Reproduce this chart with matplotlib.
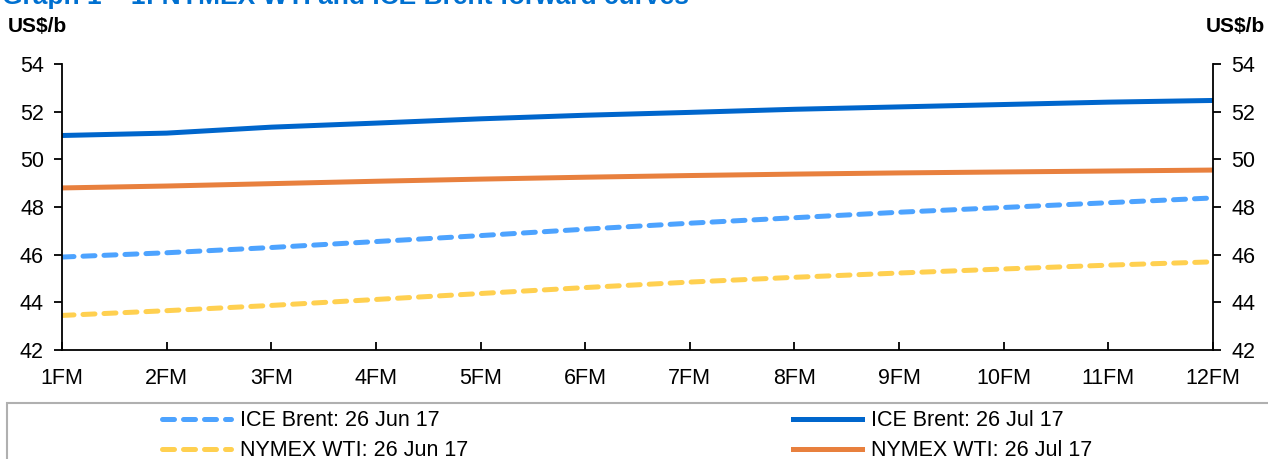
import matplotlib.pyplot as plt
from matplotlib.patches import Rectangle

# Данные (US$/b)
months = ["1FM", "2FM", "3FM", "4FM", "5FM", "6FM",
          "7FM", "8FM", "9FM", "10FM", "11FM", "12FM"]
brent_jun = [45.9, 46.08, 46.3, 46.55, 46.8, 47.07,
             47.32, 47.55, 47.78, 47.98, 48.18, 48.38]
wti_jun = [43.45, 43.65, 43.87, 44.12, 44.37, 44.62,
           44.85, 45.05, 45.23, 45.4, 45.56, 45.7]
brent_jul = [51.0, 51.1, 51.35, 51.52, 51.7, 51.85,
             51.97, 52.1, 52.2, 52.3, 52.4, 52.47]
wti_jul = [48.8, 48.88, 48.98, 49.08, 49.17, 49.25,
           49.32, 49.38, 49.43, 49.47, 49.51, 49.55]

plt.rcParams["font.family"] = ["Liberation Sans", "DejaVu Sans"]

fig = plt.figure(figsize=(12.68, 4.59), dpi=100)
ax = fig.add_axes([62 / 1268, 1 - 350 / 459, 1151 / 1268, 286 / 459])

x = list(range(len(months)))
dash = dict(linestyle=(0, (2.4, 1.8)), dash_capstyle="round", lw=3.6)
l1, = ax.plot(x, brent_jun, color="#4DA3FF", label="ICE Brent: 26 Jun 17", **dash)
l2, = ax.plot(x, wti_jun, color="#FFD050", label="NYMEX WTI: 26 Jun 17", **dash)
l3, = ax.plot(x, brent_jul, color="#0066CC", lw=3.6, label="ICE Brent: 26 Jul 17")
l4, = ax.plot(x, wti_jul, color="#E8803E", lw=3.6, label="NYMEX WTI: 26 Jul 17")

ax.set_xlim(0, len(months) - 1)
ax.set_ylim(42, 54)
ax.set_yticks(range(42, 55, 2))
ax.set_xticks(x)
ax.set_xticklabels(months)
ax.spines["top"].set_visible(False)
for s in ["left", "right", "bottom"]:
    ax.spines[s].set_linewidth(1.3)
ax.tick_params(axis="y", direction="out", length=6, width=1.3,
               labelsize=15.5, left=True, right=True,
               labelleft=True, labelright=True, pad=7)
ax.tick_params(axis="x", direction="in", length=6, width=1.3,
               labelsize=15.5, pad=13)

fig.text(8 / 1268, 1 - 27 / 459, "US$/b", fontsize=15, fontweight="bold",
         va="center", ha="left")
fig.text(1265 / 1268, 1 - 27 / 459, "US$/b", fontsize=15, fontweight="bold",
         va="center", ha="right")
fig.text(2 / 1268, 1 - 4 / 459,
         "Graph 1 \u2013 1: NYMEX WTI and ICE Brent forward curves",
         fontsize=19, fontweight="bold", color="#0070D0", va="baseline")

# Рамка легенды (уходит за нижний край)
fig.patches.append(Rectangle((7 / 1268, -0.05), 1.0, 0.05 + 1 - 403 / 459,
                             transform=fig.transFigure, fill=False,
                             edgecolor="#B0B0B0", lw=1.5))
fig.legend(handles=[l1, l2, l3, l4], ncol=2, frameon=False,
           fontsize=15.5, loc="upper left",
           bbox_to_anchor=(158 / 1268, 1 - 406 / 459),
           handlelength=3.2, handletextpad=0.4, columnspacing=15.1,
           labelspacing=0.42, borderaxespad=0, borderpad=0.2)

fig.savefig("out.png", dpi=100)
